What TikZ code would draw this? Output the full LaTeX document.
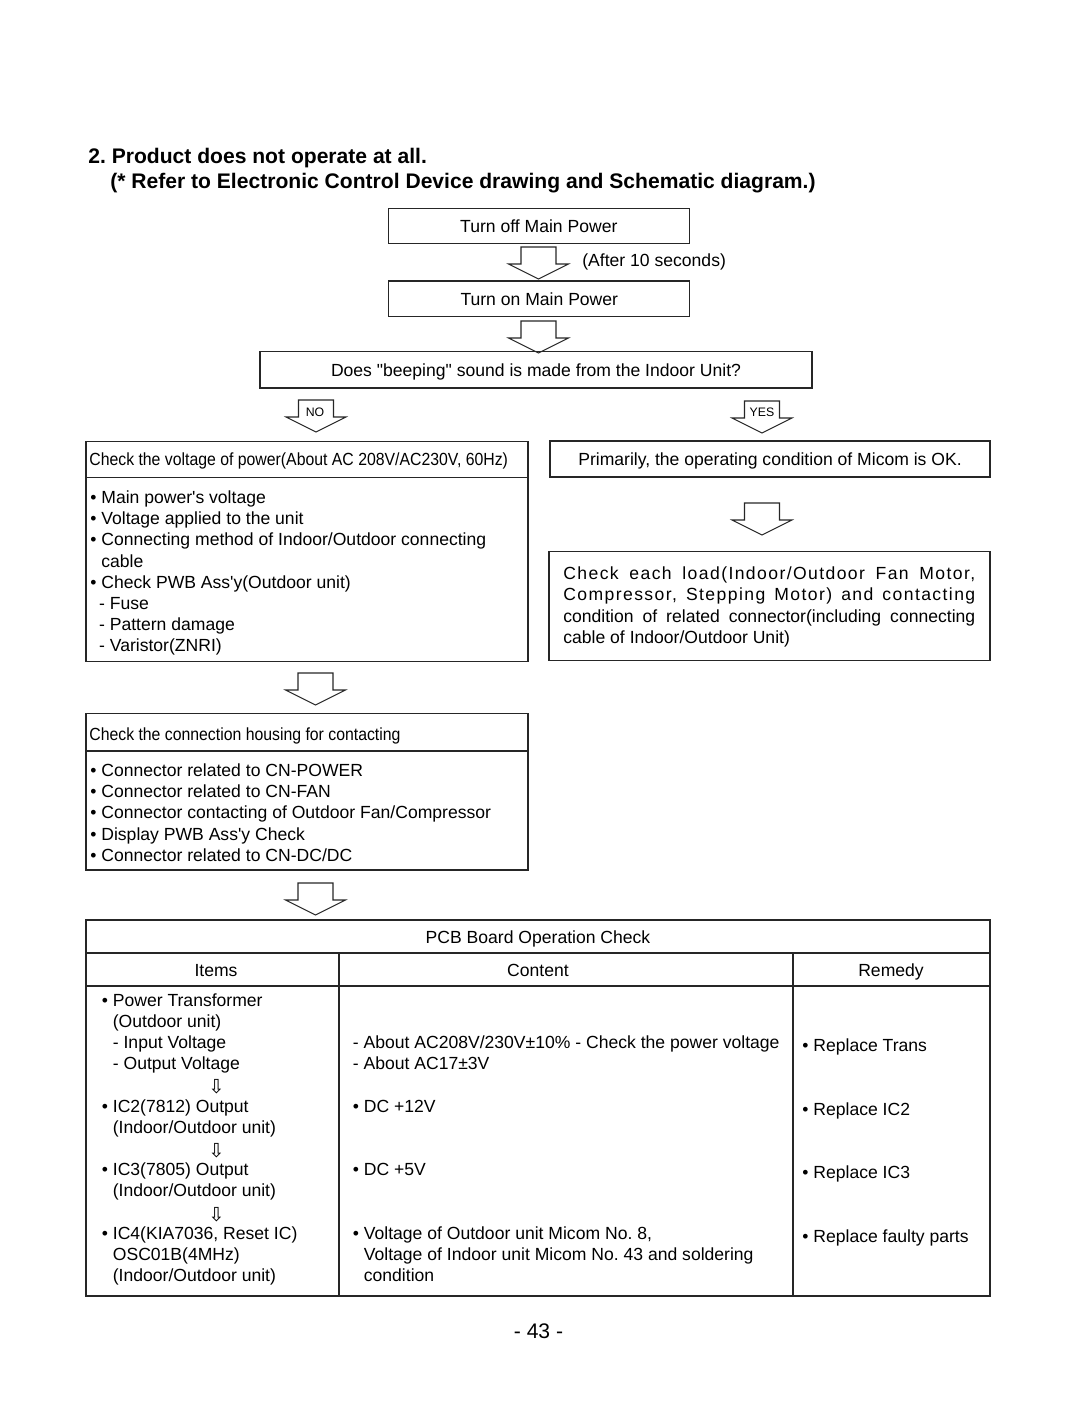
\documentclass[tikz,border=0pt]{standalone}
\usepackage{fontspec}
\usepackage{graphicx}
\setmainfont{Liberation Sans}
\newfontfamily\symfont{DejaVu Sans}
\usetikzlibrary{calc}

\newcommand{\hollowarrow}[1]{\draw[hollow] #1 ++(-17.5,0) -- ++(0,17) -- ++(-12.5,0)
  -- ++(30,15) -- ++(30,-15) -- ++(-12.5,0) -- ++(0,-17) -- cycle;}
\newcommand{\cond}[1]{\scalebox{0.9}[1]{#1}}
\newcommand{\bul}{\textbullet\ }
\newcommand{\ind}{\hphantom{\textbullet\ }}

\begin{document}
\frenchspacing
\begin{tikzpicture}[x=0.02cm,y=-0.02cm,font=\fontsize{10}{12.07}\selectfont]
     \tikzstyle{box}=[draw=black!85,line width=0.7pt,inner sep=0pt,text height=7.2pt,text depth=0pt]
     \tikzstyle{hollow}=[draw=black!85,line width=0.6pt,line join=miter]
     \tikzstyle{rule}=[draw=black!85,line width=0.7pt]
     \tikzstyle{txt}=[inner sep=0pt,anchor=base west]
     \tikzstyle{list}=[inner sep=0pt,anchor=north west,align=left]
     \tikzstyle{yesno}=[inner sep=0pt,anchor=base,font=\fontsize{7}{8}\selectfont]
     \tikzstyle{down}=[inner sep=0pt,font=\symfont\fontsize{11}{12}\selectfont]
     \useasboundingbox (0,0) rectangle (1080,1405);

     % heading
     \node[txt,font=\fontsize{12}{14}\selectfont\bfseries] (head) at (88,163.5) {2. Product does not operate at all.};
     \node[txt,font=\fontsize{12}{14}\selectfont\bfseries] (refer) at (110,189) {(* Refer to Electronic Control Device drawing and Schematic diagram.)};

     % power off / on
     \node[box,minimum width=6.02cm,minimum height=0.7cm] (off) at (538.8,225.8) {Turn off Main Power};
     \hollowarrow{(538.5,247)}
     \node[txt] (wait) at (582,266.5) {(After 10 seconds)};
     \node[box,minimum width=6.02cm,minimum height=0.71cm] (on) at (539.3,298.8) {Turn on Main Power};
     \hollowarrow{(538.5,321)}
     \node[box,minimum width=11.04cm,minimum height=0.73cm] (beep) at (536,369.8) {Does \textquotedbl beeping\textquotedbl\ sound is made from the Indoor Unit?};

     \hollowarrow{(316,400)}
     \node[yesno] (no) at (315,416.7) {NO};
     \hollowarrow{(762,401)}
     \node[yesno] (yes) at (762,416.7) {YES};

     % NO branch
     \node[box,minimum width=8.84cm,minimum height=4.4cm] (volt) at (307,551.7) {};
     \draw[rule] (86,477.5) -- (528,477.5);
     \node[txt] (volthead) at (89,465.5) {\cond{Check the voltage of power(About AC 208V/AC230V, 60Hz)}};
     \node[list] (voltlist) at (90,490.3) {\bul Main power\textquotesingle s voltage\\
       \bul Voltage applied to the unit\\
       \bul Connecting method of Indoor/Outdoor connecting\\
       \ind cable\\
       \bul Check PWB Ass\textquotesingle y(Outdoor unit)\\
       \hspace*{5pt}- Fuse\\
       \hspace*{5pt}- Pattern damage\\
       \hspace*{5pt}- Varistor(ZNRI)};

     \hollowarrow{(315.5,673)}
     \node[box,minimum width=8.84cm,minimum height=3.13cm] (conn) at (307,791.7) {};
     \draw[rule] (86,751) -- (528,751);
     \node[txt] (connhead) at (89,740.5) {\cond{Check the connection housing for contacting}};
     \node[list] (connlist) at (90,763.3) {\bul Connector related to CN-POWER\\
       \bul Connector related to CN-FAN\\
       \bul Connector contacting of Outdoor Fan/Compressor\\
       \bul Display PWB Ass\textquotesingle y Check\\
       \bul Connector related to CN-DC/DC};

     % YES branch
     \node[box,minimum width=8.8cm,minimum height=0.72cm] (micom) at (770,459) {Primarily, the operating condition of Micom is OK.};
     \hollowarrow{(762,503)}
     \node[box,minimum width=8.82cm,minimum height=2.18cm] (load) at (769.5,606.2) {};
     \node[list] (loadtext) at (563,566.6) {\makebox[8.24cm][s]{\addfontfeature{LetterSpace=8}Check each load(Indoor/Outdoor Fan Motor,}\\
       \makebox[8.24cm][s]{\addfontfeature{LetterSpace=8}Compressor, Stepping Motor) and contacting}\\
       \makebox[8.24cm][s]{condition of related connector(including connecting}\\
       cable of Indoor/Outdoor Unit)};

     \hollowarrow{(315.5,883)}

     % PCB check table
     \node[box,minimum width=18.08cm,minimum height=7.52cm] (pcb) at (538,1108) {};
     \draw[rule] (86,953) -- (990,953);
     \draw[rule] (86,986) -- (990,986);
     \draw[rule] (339,953) -- (339,1296);
     \draw[rule] (793,953) -- (793,1296);
     \node[inner sep=0pt,anchor=base] (pcbtitle) at (538,943.3) {PCB Board Operation Check};
     \node[inner sep=0pt,anchor=base] (items) at (216,976.7) {Items};
     \node[inner sep=0pt,anchor=base] (content) at (538,976.7) {Content};
     \node[inner sep=0pt,anchor=base] (remedy) at (891,976.7) {Remedy};

     \node[list] (itemlist) at (101.5,993) {\bul Power Transformer\\
       \ind (Outdoor unit)\\
       \ind - Input Voltage\\
       \ind - Output Voltage\\
       ~\\
       \bul IC2(7812) Output\\
       \ind (Indoor/Outdoor unit)\\
       ~\\
       \bul IC3(7805) Output\\
       \ind (Indoor/Outdoor unit)\\
       ~\\
       \bul IC4(KIA7036, Reset IC)\\
       \ind OSC01B(4MHz)\\
       \ind (Indoor/Outdoor unit)};
     \node[down] (down1) at (216.5,1087) {⇩};
     \node[down] (down2) at (216.5,1151) {⇩};
     \node[down] (down3) at (216.5,1215) {⇩};

     \node[list] (contlist) at (352.5,1035.6) {- About AC208V/230V±10\% - Check the power voltage\\
       - About AC17±3V\\
       ~\\
       \bul DC +12V\\
       ~\\
       ~\\
       \bul DC +5V\\
       ~\\
       ~\\
       \bul Voltage of Outdoor unit Micom No. 8,\\
       \ind Voltage of Indoor unit Micom No. 43 and soldering\\
       \ind condition};

     \node[list] (remlist) at (802,1038.3) {\bul Replace Trans\\
       ~\\
       ~\\
       \bul Replace IC2\\
       ~\\
       ~\\
       \bul Replace IC3\\
       ~\\
       ~\\
       \bul Replace faulty parts};

     \node[inner sep=0pt,anchor=base,font=\fontsize{12}{14}\selectfont] (page) at (538.5,1338.3) {- 43 -};
 \end{tikzpicture}
\end{document}
